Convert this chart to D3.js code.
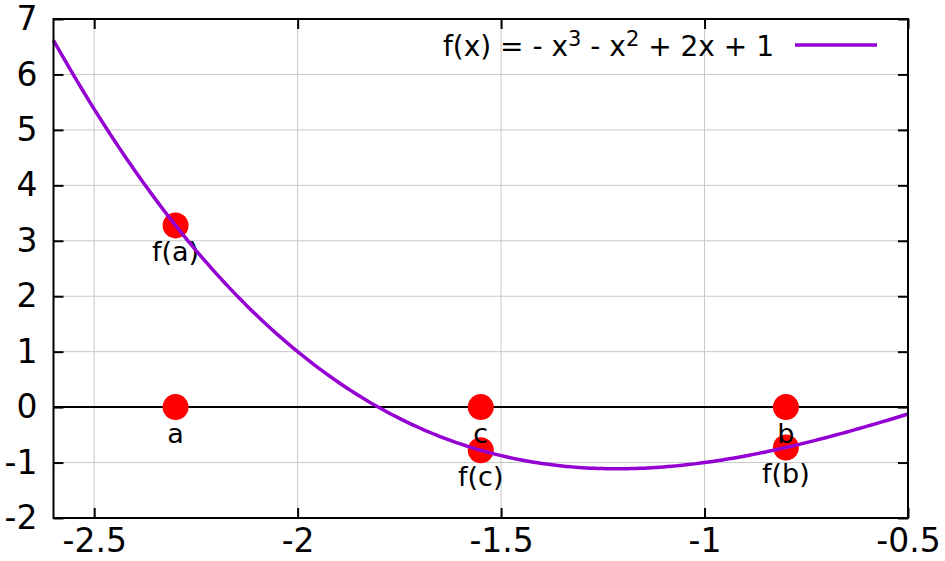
<!DOCTYPE html>
<html>
<head>
<meta charset="utf-8">
<script src="https://cdn.jsdelivr.net/npm/d3@7"></script>
<style>
  body { margin: 0; background: #fff; }
  svg { font-family: "DejaVu Sans", sans-serif; }
</style>
</head>
<body>
<script>
// data
var xTicks = [-2.5, -2, -1.5, -1, -0.5];
var yTicks = [-2, -1, 0, 1, 2, 3, 4, 5, 6, 7];
var pointNames = ["a", "c", "b"];
var pointX = [-2.3, -1.55, -0.8];
var curveX = d3.range(-2.6, -0.4999, 0.01);

function f(x) { return -x * x * x - x * x + 2 * x + 1; }
function fmt(d) { return String(d); }

var W = 945, H = 561,
    pLeft = 53.5, pRight = 908, pTop = 19, pBottom = 518;

var svg = d3.select("body").append("svg")
    .attr("width", W)
    .attr("height", H);

var x = d3.scaleLinear().domain([-2.6, -0.5]).range([pLeft, pRight]);
var y = d3.scaleLinear().domain([-2, 7]).range([pBottom, pTop]);

// grid
svg.append("g").selectAll("line")
  .data(xTicks.slice(0, -1))
  .enter().append("line")
  .attr("x1", function(d) { return x(d); })
  .attr("x2", function(d) { return x(d); })
  .attr("y1", pTop).attr("y2", pBottom)
  .attr("stroke", "#c8c8c8").attr("stroke-width", 1);

svg.append("g").selectAll("line")
  .data(yTicks.slice(1, -1))
  .enter().append("line")
  .attr("y1", function(d) { return y(d); })
  .attr("y2", function(d) { return y(d); })
  .attr("x1", pLeft).attr("x2", pRight)
  .attr("stroke", "#c8c8c8").attr("stroke-width", 1);

// zero line
svg.append("line")
  .attr("x1", pLeft).attr("x2", pRight)
  .attr("y1", y(0)).attr("y2", y(0))
  .attr("stroke", "#000").attr("stroke-width", 2);

// axes with inward ticks (mirrored)
var tickLen = 10;
svg.append("g")
  .attr("transform", "translate(0," + pBottom + ")")
  .call(d3.axisBottom(x).tickValues(xTicks).tickSizeInner(-tickLen).tickSizeOuter(0).tickPadding(11).tickFormat(fmt))
  .call(function(g) { g.select(".domain").remove(); });
svg.append("g")
  .attr("transform", "translate(0," + pTop + ")")
  .call(d3.axisTop(x).tickValues(xTicks).tickSizeInner(-tickLen).tickSizeOuter(0).tickFormat(""))
  .call(function(g) { g.select(".domain").remove(); });
svg.append("g")
  .attr("transform", "translate(" + pLeft + ",0)")
  .call(d3.axisLeft(y).tickValues(yTicks).tickSizeInner(-tickLen).tickSizeOuter(0).tickPadding(16).tickFormat(fmt))
  .call(function(g) { g.select(".domain").remove(); });
svg.append("g")
  .attr("transform", "translate(" + pRight + ",0)")
  .call(d3.axisRight(y).tickValues(yTicks).tickSizeInner(-tickLen).tickSizeOuter(0).tickFormat(""))
  .call(function(g) { g.select(".domain").remove(); });

svg.selectAll(".tick line").attr("stroke", "#000").attr("stroke-width", 2);
svg.selectAll(".tick text")
  .attr("font-family", "DejaVu Sans, sans-serif")
  .attr("font-size", 33)
  .attr("fill", "#000");

// points on axis and on curve
var pts = [];
pointX.forEach(function(px, i) {
  pts.push({x: px, y: 0, label: pointNames[i]});
  pts.push({x: px, y: f(px), label: "f(" + pointNames[i] + ")"});
});

svg.append("g").selectAll("circle")
  .data(pts)
  .enter().append("circle")
  .attr("cx", function(d) { return x(d.x); })
  .attr("cy", function(d) { return y(d.y); })
  .attr("r", 13)
  .attr("fill", "#ff0000");

svg.append("g").selectAll("text")
  .data(pts)
  .enter().append("text")
  .attr("x", function(d) { return x(d.x); })
  .attr("y", function(d) { return y(d.y) + 36; })
  .attr("text-anchor", "middle")
  .attr("font-size", 27)
  .text(function(d) { return d.label; });

// curve
var line = d3.line()
  .x(function(d) { return x(d); })
  .y(function(d) { return y(f(d)); });

svg.append("path")
  .datum(curveX)
  .attr("d", line)
  .attr("fill", "none")
  .attr("stroke", "#9400d3")
  .attr("stroke-width", 3.5);

// border
svg.append("rect")
  .attr("x", pLeft).attr("y", pTop)
  .attr("width", pRight - pLeft).attr("height", pBottom - pTop)
  .attr("fill", "none").attr("stroke", "#000").attr("stroke-width", 2);

// legend
var key = svg.append("text")
  .attr("x", 774).attr("y", 56)
  .attr("text-anchor", "end")
  .attr("font-size", 28);
key.append("tspan").text("f(x) = - x");
key.append("tspan").attr("dy", -10).attr("font-size", 21).text("3");
key.append("tspan").attr("dy", 10).text(" - x");
key.append("tspan").attr("dy", -10).attr("font-size", 21).text("2");
key.append("tspan").attr("dy", 10).text(" + 2x + 1");

svg.append("line")
  .attr("x1", 795).attr("x2", 877)
  .attr("y1", 45).attr("y2", 45)
  .attr("stroke", "#9400d3").attr("stroke-width", 3.5);
</script>
</body>
</html>
